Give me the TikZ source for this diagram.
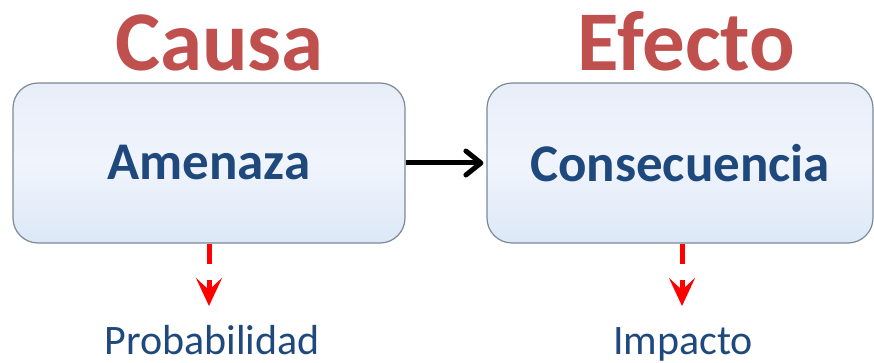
\documentclass[tikz,border=0pt]{standalone}
\usepackage{fontspec}
\setmainfont{Carlito}
\usetikzlibrary{arrows.meta}
\definecolor{causared}{HTML}{C0504D}
\definecolor{navy}{HTML}{1F497D}
\definecolor{boxedge}{HTML}{7D8898}
\definecolor{boxtop}{HTML}{E8EEF9}
\definecolor{boxmid}{HTML}{F0F4FC}
\definecolor{boxbot}{HTML}{DCE8F7}
\definecolor{arrred}{HTML}{FF0000}
\tikzset{
  bigbox/.style={draw=boxedge, line width=1.2pt, rounded corners=25pt,
    top color=boxtop, bottom color=boxbot, middle color=boxmid,
    minimum height=160pt, inner sep=0pt,
    font=\bfseries\fontsize{53}{60}\selectfont, text=navy},
  title/.style={anchor=base, font=\bfseries\fontsize{85}{96}\selectfont, text=causared},
  sublabel/.style={anchor=base, font=\fontsize{42}{48}\selectfont, text=navy},
  redarrow/.style={draw=arrred, line width=5pt, dash pattern=on 20pt off 16pt,
    -{Stealth[length=28pt,width=26pt,inset=12pt]}},
  blackarrow/.style={draw=black, line width=5pt,
    -{Straight Barb[length=15pt,width=24pt,line cap=round,line join=round]}}
}
\begin{document}
\begin{tikzpicture}[x=1pt,y=-1pt]
\useasboundingbox (0,0) rectangle (874,363);
\node[bigbox, minimum width=392pt] (a) at (209,163) {Amenaza};
\node[bigbox, minimum width=386pt] (b) at (680,163) {Consecuencia};
\node[title] (t1) at (219.5,71) {Causa};
\node[title] (t2) at (686.5,71) {Efecto};
\node[sublabel] (p) at (212,354) {Probabilidad};
\node[sublabel] (i) at (683,354) {Impacto};
\coordinate (ae) at (209,306);
\coordinate (be) at (682,306);
\draw[redarrow] (a.south) -- (ae);
\draw[redarrow] ([xshift=2pt]b.south) -- (be);
\draw[blackarrow] (a.east) -- ([xshift=-3pt]b.west);
\end{tikzpicture}
\end{document}
